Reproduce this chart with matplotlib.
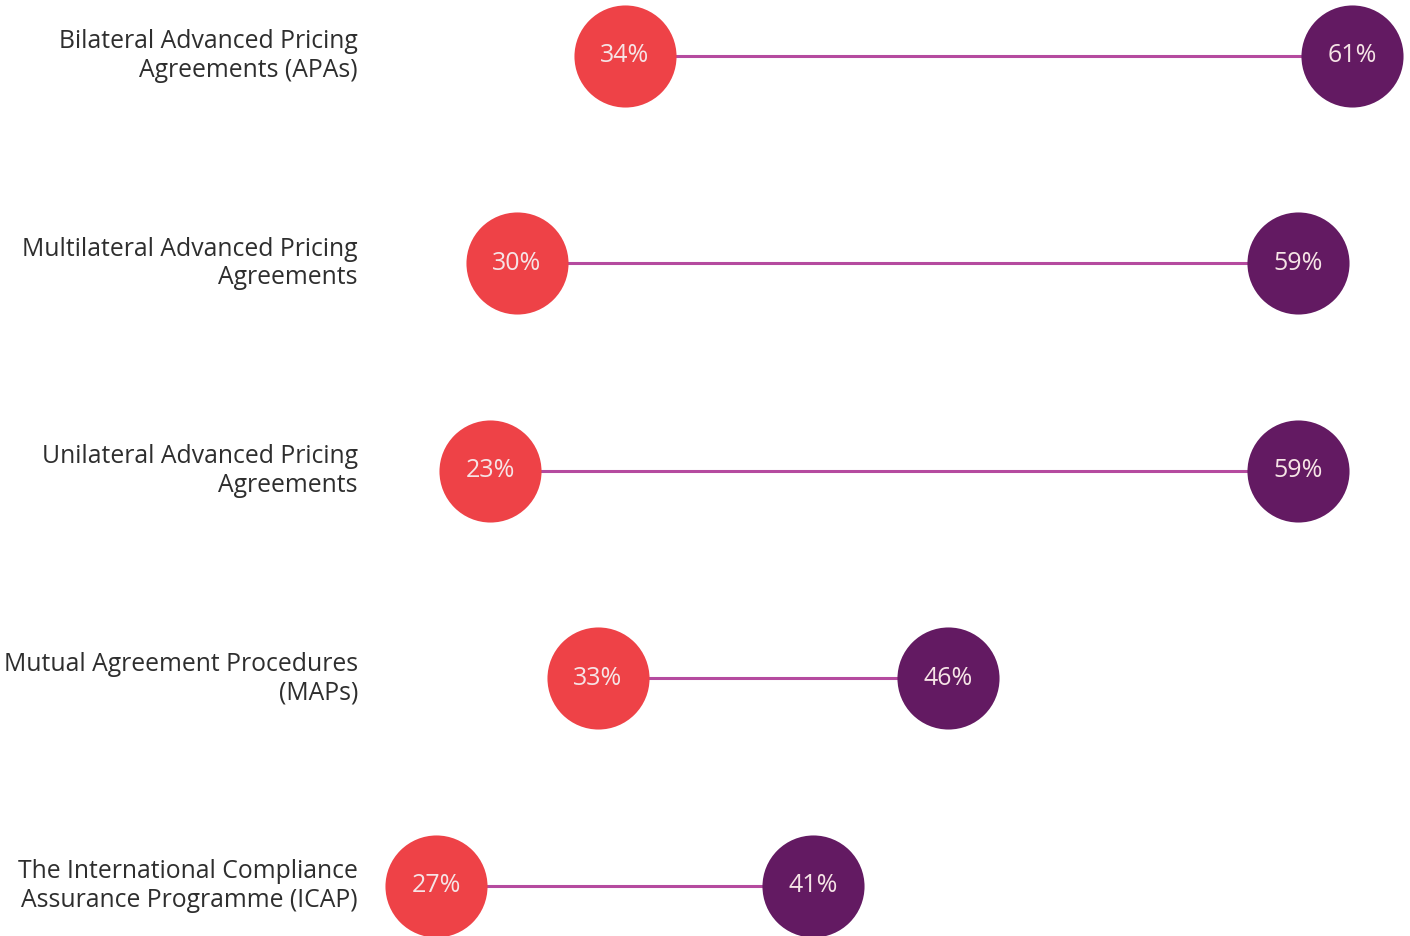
import matplotlib.pyplot as plt

# categories and values
labels = [
    "Bilateral Advanced Pricing\nAgreements (APAs)",
    "Multilateral Advanced Pricing\nAgreements",
    "Unilateral Advanced Pricing\nAgreements",
    "Mutual Agreement Procedures\n(MAPs)",
    "The International Compliance\nAssurance Programme (ICAP)",
]
before = [34, 30, 23, 33, 27]
after = [61, 59, 59, 46, 41]
# where the left dots sit on the axis (the source draws the 23% dot at 29)
before_axis = [34, 30, 29, 33, 27]

red = "#EE4247"
purple = "#631A62"
line_col = "#B54B9F"
text_col = "#2E2E2E"
dot_text = "#F6E4E6"

plt.rcParams['font.family'] = ['Open Sans', 'DejaVu Sans']

fig = plt.figure(figsize=(14.1, 9.37), dpi=100)
ax = fig.add_axes([0, 0, 1, 1])
ax.set_xlim(10.806, 63.16)
ax.set_ylim(4.241, -0.2747)
ax.axis('off')

for i in range(len(labels)):
    ax.plot([before_axis[i], after[i]], [i, i], color=line_col, lw=2.2, zorder=1)
    ax.plot(before_axis[i], i, 'o', ms=73.5, color=red, mec='none', zorder=2)
    ax.plot(after[i], i, 'o', ms=73.5, color=purple, mec='none', zorder=2)
    ax.text(before_axis[i], i - 0.005, f"{before[i]}%", color=dot_text, fontsize=18,
            fontweight='medium', ha='center', va='center', zorder=3)
    ax.text(after[i], i - 0.005, f"{after[i]}%", color=dot_text, fontsize=18,
            fontweight='medium', ha='center', va='center', zorder=3)
    ax.text(358 / 1410, 1 - (56 + 207.5 * i) / 937, labels[i], transform=ax.transAxes,
            ha='right', va='center', fontsize=17.8, color=text_col, linespacing=1.2)

fig.savefig("out.png", dpi=100)
